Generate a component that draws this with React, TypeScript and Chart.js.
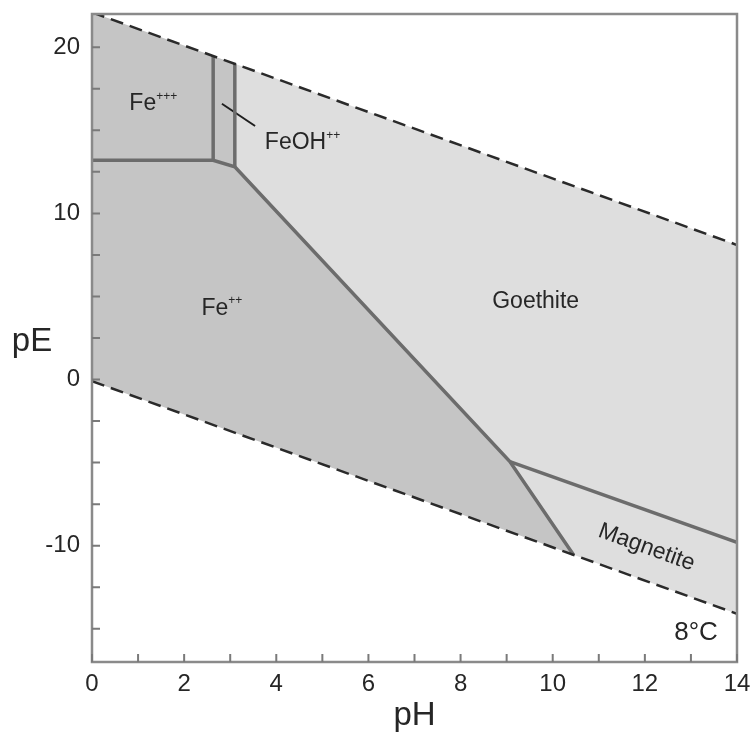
import React, { useEffect, useRef } from 'react';
import { Chart, registerables } from 'chart.js';

Chart.register(...registerables);

// ---- axis ticks ----
const phTicks = [0, 2, 4, 6, 8, 10, 12, 14];
const phMinorTicks = [1, 3, 5, 7, 9, 11, 13];
const peTicks = [-10, 0, 10, 20];
const peMinorTicks = [-15, -12.5, -7.5, -5, -2.5, 2.5, 5, 7.5, 12.5, 15, 17.5];

// ---- water stability limits (dashed) ----
const upperWater = [{ x: 0, y: 22.1 }, { x: 14, y: 8.1 }];
const lowerWater = [{ x: 0, y: -0.1 }, { x: 14, y: -14.1 }];

// ---- stability fields (polygons) ----
const fe3Field = [
  { x: 0, y: 13.2 }, { x: 2.63, y: 13.2 }, { x: 2.63, y: 19.47 }, { x: 0.1, y: 22 }, { x: 0, y: 22 }, { x: 0, y: 13.2 },
];
const feohField = [
  { x: 2.63, y: 13.2 }, { x: 3.1, y: 12.8 }, { x: 3.1, y: 19.0 }, { x: 2.63, y: 19.47 }, { x: 2.63, y: 13.2 },
];
const fe2Field = [
  { x: 0, y: 13.2 }, { x: 2.63, y: 13.2 }, { x: 3.1, y: 12.8 }, { x: 9.07, y: -4.94 }, { x: 10.45, y: -10.55 }, { x: 0, y: -0.1 }, { x: 0, y: 13.2 },
];
const goethiteField = [
  { x: 3.1, y: 12.8 }, { x: 3.1, y: 19.0 }, { x: 14, y: 8.1 }, { x: 14, y: -9.8 }, { x: 9.07, y: -4.94 }, { x: 3.1, y: 12.8 },
];
const magnetiteField = [
  { x: 9.07, y: -4.94 }, { x: 14, y: -9.8 }, { x: 14, y: -14.1 }, { x: 10.45, y: -10.55 }, { x: 9.07, y: -4.94 },
];

// ---- boundaries (solid) ----
const fe2Boundary = [
  { x: 0, y: 13.2 }, { x: 2.63, y: 13.2 }, { x: 3.1, y: 12.8 }, { x: 9.07, y: -4.94 }, { x: 10.45, y: -10.55 },
];
const fe3FeohBoundary = [{ x: 2.63, y: 13.2 }, { x: 2.63, y: 19.47 }];
const feohGoethiteBoundary = [{ x: 3.1, y: 12.8 }, { x: 3.1, y: 19.0 }];
const goethiteMagnetiteBoundary = [{ x: 9.07, y: -4.94 }, { x: 14, y: -9.8 }];
const feohLeader = [{ x: 2.82, y: 16.6 }, { x: 3.54, y: 15.26 }];

// ---- labels ----
const labelTexts = ['Fe', 'FeOH', 'Fe', 'Goethite', 'Magnetite', '8°C'];
const labelSups = ['+++', '++', '++', '', '', ''];
const labelX = [1.33, 4.57, 2.82, 9.63, 12.05, 13.11];
const labelY = [16.7, 14.36, 4.4, 4.82, -10.0, -15.1];
const labelAngle = [0, 0, 0, 0, 20, 0];
const labelSize = [23, 23, 23, 23, 23, 26];

const FONT = '"Liberation Sans", Arial, Helvetica, sans-serif';
const TEXT = '#262626';
const DARK_FILL = '#c5c5c5';
const LIGHT_FILL = '#dedede';
const BOUNDARY = '#6c6c6c';
const FRAME = '#8a8a8a';

const decorPlugin = {
  id: 'decor',
  afterDatasetsDraw(chart: any) {
    const { ctx, chartArea: a, scales } = chart;
    const xs = scales.x;
    const ys = scales.y;
    ctx.save();
    // labels
    for (let i = 0; i < labelTexts.length; i++) {
      const px = xs.getPixelForValue(labelX[i]);
      const py = ys.getPixelForValue(labelY[i]);
      const size = labelSize[i];
      ctx.save();
      ctx.translate(px, py);
      ctx.rotate((labelAngle[i] * Math.PI) / 180);
      ctx.fillStyle = TEXT;
      ctx.font = `${size}px ${FONT}`;
      const bw = ctx.measureText(labelTexts[i]).width;
      ctx.font = `12px ${FONT}`;
      const sw = labelSups[i] ? ctx.measureText(labelSups[i]).width : 0;
      const total = bw + sw;
      const cap = size * 0.716;
      ctx.textAlign = 'left';
      ctx.textBaseline = 'alphabetic';
      ctx.font = `${size}px ${FONT}`;
      ctx.fillText(labelTexts[i], -total / 2, cap / 2);
      if (labelSups[i]) {
        ctx.font = `12px ${FONT}`;
        ctx.fillText(labelSups[i], -total / 2 + bw, -cap / 2 + 6);
      }
      ctx.restore();
    }
    // frame
    ctx.strokeStyle = FRAME;
    ctx.lineWidth = 2.5;
    ctx.strokeRect(a.left, a.top, a.right - a.left, a.bottom - a.top);
    // inward ticks
    ctx.lineWidth = 2;
    ctx.strokeStyle = '#7a7a7a';
    ctx.beginPath();
    for (const v of [...phTicks, ...phMinorTicks]) {
      const p = xs.getPixelForValue(v);
      ctx.moveTo(p, a.bottom);
      ctx.lineTo(p, a.bottom - 8);
    }
    for (const v of [...peTicks, ...peMinorTicks]) {
      const p = ys.getPixelForValue(v);
      ctx.moveTo(a.left, p);
      ctx.lineTo(a.left + 8, p);
    }
    ctx.stroke();
    // axis titles
    ctx.fillStyle = TEXT;
    ctx.font = `33px ${FONT}`;
    ctx.textAlign = 'center';
    ctx.textBaseline = 'middle';
    ctx.fillText('pH', (a.left + a.right) / 2, a.bottom + 54);
    ctx.fillText('pE', a.left - 60, (a.top + a.bottom) / 2 + 4);
    ctx.restore();
  },
};

const poly = (data: any[], color: string) => ({
  data,
  fill: 'shape',
  backgroundColor: color,
  borderWidth: 0,
  pointRadius: 0,
  tension: 0,
  order: 3,
});
const solid = (data: any[], color: string, width: number) => ({
  data,
  fill: false,
  borderColor: color,
  borderWidth: width,
  pointRadius: 0,
  tension: 0,
  order: 2,
  borderJoinStyle: 'miter',
});
const dashed = (data: any[]) => ({
  data,
  fill: false,
  borderColor: '#2a2a2a',
  borderWidth: 2.5,
  borderDash: [13, 7],
  pointRadius: 0,
  order: 1,
});

export default function App() {
  const ref = useRef<HTMLCanvasElement | null>(null);
  useEffect(() => {
    document.body.style.margin = '0';
    if (!ref.current) return;
    const chart = new Chart(ref.current, {
      type: 'line',
      data: {
        datasets: [
          poly(fe3Field, DARK_FILL),
          poly(feohField, DARK_FILL),
          poly(fe2Field, DARK_FILL),
          poly(goethiteField, LIGHT_FILL),
          poly(magnetiteField, LIGHT_FILL),
          solid(fe2Boundary, BOUNDARY, 3.5),
          solid(fe3FeohBoundary, BOUNDARY, 3.5),
          solid(feohGoethiteBoundary, BOUNDARY, 3.5),
          solid(goethiteMagnetiteBoundary, BOUNDARY, 3.5),
          solid(feohLeader, '#1e1e1e', 2),
          dashed(upperWater),
          dashed(lowerWater),
        ] as any,
      },
      options: {
        responsive: false,
        animation: false,
        devicePixelRatio: 1,
        layout: { padding: { top: 14, right: 17, left: 0, bottom: 0 } },
        plugins: { legend: { display: false }, tooltip: { enabled: false } },
        scales: {
          x: {
            type: 'linear',
            min: 0,
            max: 14,
            grid: { display: false, drawTicks: false },
            border: { display: false },
            afterBuildTicks: (s: any) => { s.ticks = phTicks.map((v) => ({ value: v })); },
            afterFit: (s: any) => { s.height = 71; s.paddingLeft = 0; s.paddingRight = 0; },
            ticks: { color: TEXT, font: { size: 24, family: FONT }, padding: 8, maxRotation: 0, autoSkip: false },
          },
          y: {
            type: 'linear',
            min: -17,
            max: 22,
            grid: { display: false, drawTicks: false },
            border: { display: false },
            afterBuildTicks: (s: any) => { s.ticks = peTicks.map((v) => ({ value: v })); },
            afterFit: (s: any) => { s.width = 92; s.paddingTop = 0; s.paddingBottom = 0; },
            ticks: { color: TEXT, font: { size: 24, family: FONT }, padding: 12, autoSkip: false },
          },
        },
      },
      plugins: [decorPlugin],
    } as any);
    return () => chart.destroy();
  }, []);
  return (
    <div style={{ width: 754, height: 733, background: '#fff' }}>
      <canvas ref={ref} width={754} height={733} style={{ display: 'block' }} />
    </div>
  );
}
